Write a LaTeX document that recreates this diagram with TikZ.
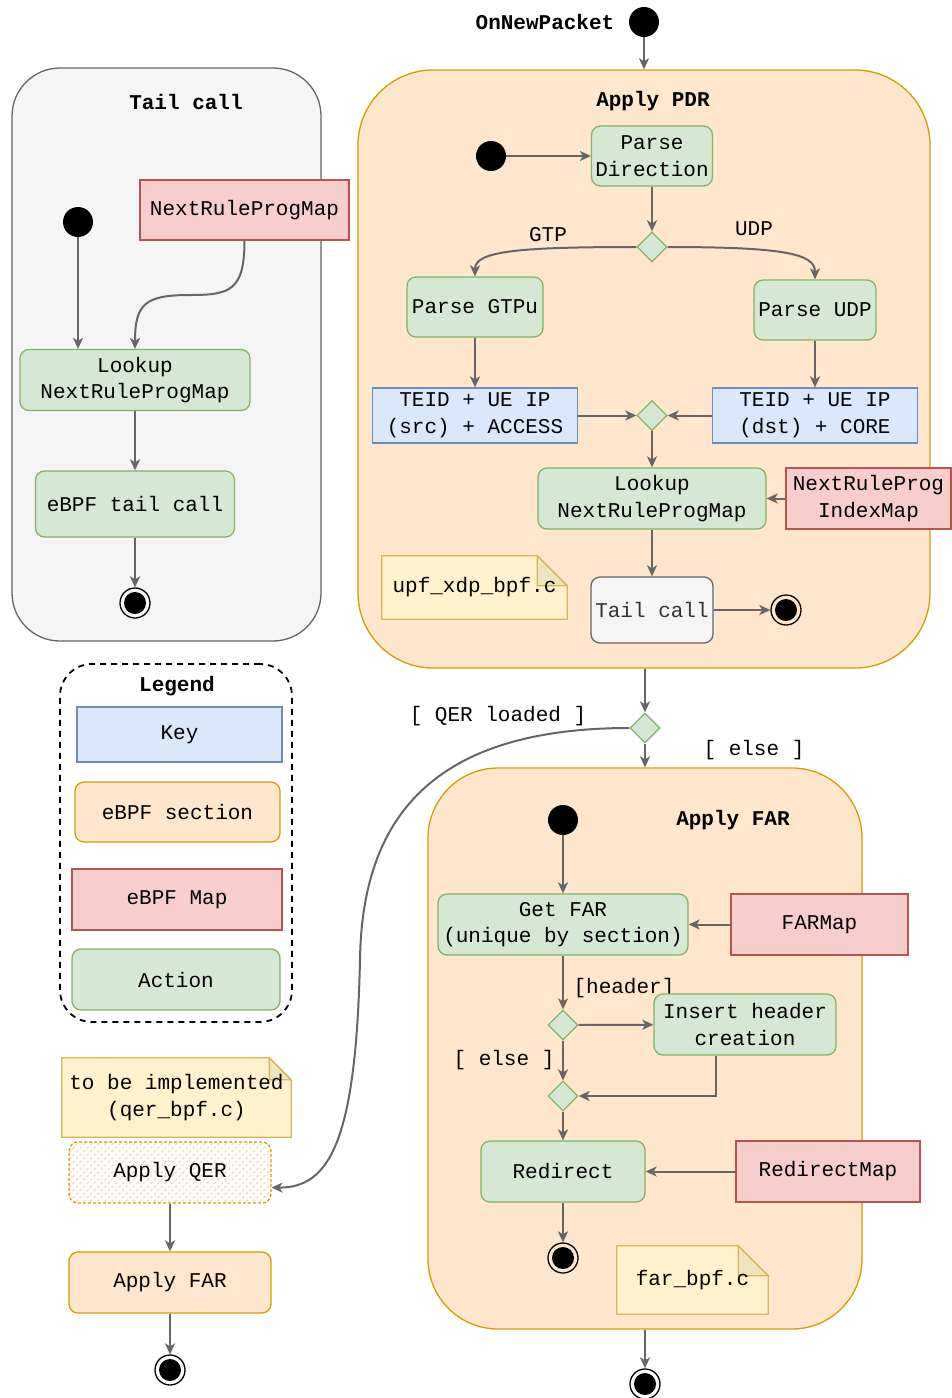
\documentclass[tikz,border=0pt]{standalone}
\usepackage{fontspec}
\setmainfont{Liberation Mono}
\usetikzlibrary{arrows.meta,shapes.geometric,fit,backgrounds,patterns.meta}

\definecolor{actfill}{HTML}{D5E8D4}
\definecolor{actdraw}{HTML}{82B366}
\definecolor{keyfill}{HTML}{DAE8FC}
\definecolor{keydraw}{HTML}{6C8EBF}
\definecolor{mapfill}{HTML}{F8CECC}
\definecolor{mapdraw}{HTML}{B85450}
\definecolor{secfill}{HTML}{FFE6CC}
\definecolor{secdraw}{HTML}{D79B00}
\definecolor{grayfill}{HTML}{F5F5F5}
\definecolor{graydraw}{HTML}{666666}
\definecolor{graytext}{HTML}{333333}
\definecolor{notefill}{HTML}{FFF2CC}
\definecolor{notedraw}{HTML}{D6B656}
\definecolor{notefold}{HTML}{F0E4BE}
\definecolor{hatchcol}{HTML}{F9D3AE}

\tikzset{every node/.style={inner sep=0pt,align=center,font=\fontsize{21}{26.5}\selectfont},
  wh/.style 2 args={minimum width=#1pt,minimum height=#2pt},
  heading/.style={font=\fontsize{21}{26.5}\selectfont\bfseries},
  action/.style={draw=actdraw,fill=actfill,rounded corners=9pt,line width=1.3pt},
  keybox/.style={draw=keydraw,fill=keyfill,line width=1.3pt},
  mapbox/.style={draw=mapdraw,fill=mapfill,line width=1.3pt},
  section/.style={draw=secdraw,fill=secfill,rounded corners=9pt,line width=1.3pt},
  tailbox/.style={draw=graydraw,fill=grayfill,text=graytext,rounded corners=9pt,line width=1.3pt},
  choice/.style={diamond,aspect=1,draw=actdraw,fill=actfill,minimum size=30pt,line width=1.3pt},
  startdot/.style={circle,fill=black,minimum size=30pt},
  enddot/.style={circle,draw=black,line width=1.3pt,minimum size=30pt,
    path picture={\fill[black] (path picture bounding box.center) circle (11pt);}},
  flow/.style={draw=graydraw,line width=2pt,-{Stealth[length=11pt,width=10pt,inset=3pt]}},
  group/.style={line width=1.3pt},
  notepaper/.style={draw=notedraw,fill=notefill,line width=1.3pt}}

% folded note drawn behind its text node
\newcommand\notepaper[2]{%
  \begin{scope}[on background layer]
    \draw[notepaper] (#1.south west) |- ([xshift=-#2pt]#1.north east) -- ([yshift=-#2pt]#1.north east) |- (#1.south west) -- cycle;
    \draw[notepaper,fill=notefold] ([xshift=-#2pt]#1.north east) |- ([yshift=-#2pt]#1.north east) -- cycle;
  \end{scope}}

\begin{document}
\begin{tikzpicture}[x=1pt,y=-1pt]
  \useasboundingbox (0,0) rectangle (952,1398);
  % containers
  \begin{scope}[on background layer]
    \node[group,draw=graydraw,fill=grayfill,rounded corners=48pt,fit={(12,68) (321,641)}] (tail) {};
    \node[group,draw=secdraw,fill=secfill,rounded corners=75pt,fit={(358,70) (930,668)}] (pdr) {};
    \node[group,draw=secdraw,fill=secfill,rounded corners=70pt,fit={(428,768) (862,1329)}] (far) {};
    \node[line width=1.8pt,draw=black,dash pattern=on 6pt off 5pt,rounded corners=32pt,fit={(60,664) (292,1022)}] (legend) {};
  \end{scope}

  % titles and guards
  \node[heading] (newpkt) at (545,22) {OnNewPacket};
  \node[heading] (tailtitle) at (186,102) {Tail call};
  \node[heading] (pdrtitle) at (653,101) {Apply PDR};
  \node[heading] (fartitle) at (733,820) {Apply FAR};
  \node[heading] (legtitle) at (177,686) {Legend};
  \node (gtplbl) at (548,235) {GTP};
  \node (udplbl) at (754,229) {UDP};
  \node (qerlbl) at (498,716) {[ QER loaded ]};
  \node (elselbl) at (754,750) {[ else ]};
  \node (hdrlbl) at (624,988) {[header]};
  \node (else2lbl) at (504,1060) {[ else ]};

  % tail call
  \node[startdot] (tstart) at (78,222) {};
  \node[mapbox,wh={209}{60}] (tmap) at (244.5,210) {NextRuleProgMap};
  \node[action,wh={230}{61}] (tlook) at (135,380) {Lookup\\NextRuleProgMap};
  \node[action,wh={199}{66}] (tcall) at (135,504) {eBPF tail call};
  \node[enddot] (tend) at (135,603) {};
  \coordinate (bend) at (190,295);

  % apply PDR
  \node[startdot] (top) at (644,22) {};
  \node[startdot] (pstart) at (491,156) {};
  \node[action,wh={121}{60}] (pdir) at (652,156) {Parse\\Direction};
  \node[choice] (d1) at (652,247) {};
  \node[action,wh={136}{60}] (gtpu) at (475,307) {Parse GTPu};
  \node[action,wh={122}{60}] (udp) at (815,310) {Parse UDP};
  \node[keybox,wh={205}{55}] (src) at (475,415.5) {TEID + UE IP\\(src) + ACCESS};
  \node[keybox,wh={205}{55}] (dst) at (815,415.5) {TEID + UE IP\\(dst) + CORE};
  \node[choice] (d2) at (652,415.5) {};
  \node[action,wh={228}{61}] (plook) at (652,498.5) {Lookup\\NextRuleProgMap};
  \node[mapbox,wh={165}{61}] (pidx) at (868.5,498.5) {NextRuleProg\\IndexMap};
  \node[tailbox,wh={122}{66}] (pcall) at (652,610) {Tail call};
  \node[enddot] (pend) at (786,610) {};
  \node[wh={185}{63}] (upf) at (474.5,587.5) {upf\_xdp\_bpf.c};
  \notepaper{upf}{30}

  % apply FAR
  \node[choice] (d3) at (645,728) {};
  \node[startdot] (fstart) at (563,820) {};
  \node[action,wh={250}{61}] (getfar) at (563,924.5) {Get FAR\\(unique by section)};
  \node[mapbox,wh={177}{61}] (farmap) at (819.5,924.5) {FARMap};
  \node[choice] (d4) at (563,1025) {};
  \node[action,wh={182}{61}] (hdr) at (745,1024.5) {Insert header\\creation};
  \node[choice] (d5) at (563,1096) {};
  \node[action,wh={164}{61}] (redir) at (563,1171.5) {Redirect};
  \node[mapbox,wh={184}{61}] (rmap) at (828,1171.5) {RedirectMap};
  \node[enddot] (fend) at (563,1258) {};
  \node[wh={151}{68}] (farnote) at (692.5,1280) {far\_bpf.c};
  \notepaper{farnote}{30}
  \node[enddot] (fout) at (645,1384) {};

  % legend
  \node[keybox,wh={205}{55}] (key) at (179.5,734.5) {Key};
  \node[section,wh={205}{60}] (sec) at (177.5,812) {eBPF section};
  \node[mapbox,wh={210}{61}] (mapl) at (177,899.5) {eBPF Map};
  \node[action,wh={208}{61}] (act) at (176,979.5) {Action};

  % QER branch
  \node[wh={229}{79}] (qnote) at (176.5,1097.5) {to be implemented\\(qer\_bpf.c)};
  \notepaper{qnote}{22}
  \node[wh={202}{61},rounded corners=9pt,line width=1.3pt,draw=secdraw,dash pattern=on 3pt off 2pt,
    preaction={fill=white},pattern={Lines[angle=45,distance=5pt,line width=1pt]},pattern color=hatchcol] (qer) at (170,1172.5) {Apply QER};
  \node[section,wh={202}{61}] (afar) at (170,1282.5) {Apply FAR};
  \node[enddot] (aend) at (170,1370) {};

  % connectors
  \foreach \a/\b in {pstart/pdir,pdir/d1,gtpu/src,udp/dst,src/d2,dst/d2,d2/plook,pidx/plook,plook/pcall,pcall/pend,
      tlook/tcall,tcall/tend,fstart/getfar,farmap/getfar,getfar/d4,d4/hdr,d4/d5,d5/redir,rmap/redir,redir/fend,qer/afar,afar/aend}
    \draw[flow] (\a) -- (\b);
  \draw[flow] (top) -- (top |- pdr.north);
  \draw[flow] (tstart) -- (tstart |- tlook.north);
  \draw[flow] (tmap.south) .. controls +(0,50) and +(40,0) .. (bend) .. controls +(-45,0) and +(0,-45) .. (tlook.north);
  \draw[flow] (d1.west) .. controls +(-120,0) and +(0,-25) .. (gtpu.north);
  \draw[flow] (d1.east) .. controls +(120,0) and +(0,-25) .. (udp.north);
  \draw[flow] (d3 |- pdr.south) -- (d3);
  \draw[flow] (d3) -- (d3 |- far.north);
  \draw[flow] (far.south) -- (fout);
  \draw[flow] ([xshift=-29pt]hdr.south) |- (d5);
  \draw[flow] (d3.west) .. controls (430,728) and (362,820) .. (360,960) .. controls (356,1140) and (330,1188) .. ([yshift=-15pt]qer.east);
\end{tikzpicture}
\end{document}
